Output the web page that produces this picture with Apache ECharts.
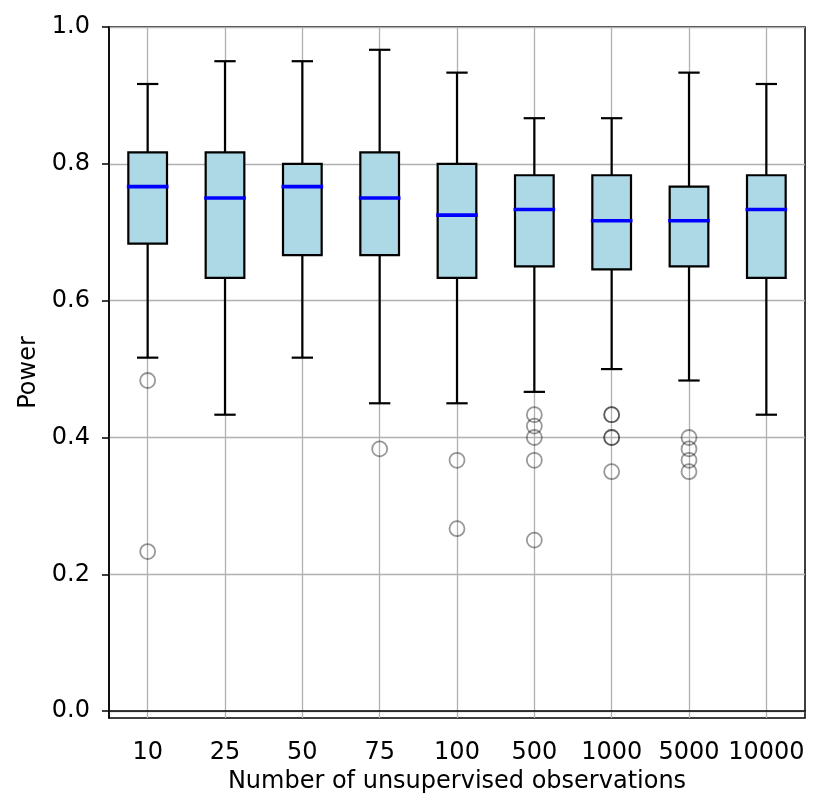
<!DOCTYPE html>
<html><head><meta charset="utf-8">
<script src="https://cdn.jsdelivr.net/npm/echarts@6/dist/echarts.min.js"></script>
<style>html,body{margin:0;padding:0;background:#fff}#c{width:832px;height:812px}</style>
</head><body><div id="c"></div>
<script>
const categories = ['10', '25', '50', '75', '100', '500', '1000', '5000', '10000'];
const whiskerLow  = [0.5167, 0.4333, 0.5167, 0.45,   0.45,   0.4667, 0.5,    0.4833, 0.4333];
const q1          = [0.6833, 0.6333, 0.6667, 0.6667, 0.6333, 0.65,   0.6458, 0.65,   0.6333];
const median      = [0.7667, 0.75,   0.7667, 0.75,   0.725,  0.7333, 0.7167, 0.7167, 0.7333];
const q3          = [0.8167, 0.8167, 0.8,    0.8167, 0.8,    0.7833, 0.7833, 0.7667, 0.7833];
const whiskerHigh = [0.9167, 0.95,   0.95,   0.9667, 0.9333, 0.8667, 0.8667, 0.9333, 0.9167];
const outlierCategory = ['10', '10', '75', '100', '100', '500', '500', '500', '500', '500',
                         '1000', '1000', '1000', '1000', '1000', '5000', '5000', '5000', '5000'];
const outlierValue    = [0.4833, 0.2333, 0.3833, 0.3667, 0.2667, 0.4333, 0.4167, 0.4, 0.3667, 0.25,
                         0.4333, 0.4333, 0.4, 0.4, 0.35, 0.4, 0.3833, 0.3667, 0.35];
const yTickValues = [0, 0.2, 0.4, 0.6, 0.8, 1.0];

const FONT = 'DejaVu Sans';
const FS = 24;
const boxData = categories.map((c, i) => [i, whiskerLow[i], q1[i], median[i], q3[i], whiskerHigh[i]]);
const outlierData = outlierCategory.map((c, i) => [categories.indexOf(c), outlierValue[i]]);

function renderBox(params, api) {
  const i = api.value(0);
  const pLo = api.coord([i, api.value(1)]);
  const pQ1 = api.coord([i, api.value(2)]);
  const pMed = api.coord([i, api.value(3)]);
  const pQ3 = api.coord([i, api.value(4)]);
  const pHi = api.coord([i, api.value(5)]);
  const band = api.size([1, 0])[0];
  const bw = band * 0.5;
  const cw = bw * 0.5 + 2;
  const x = pQ1[0];
  const ls = { stroke: '#000', lineWidth: 2.2, fill: null };
  return {
    type: 'group',
    children: [
      { type: 'line', shape: { x1: x, y1: pQ1[1], x2: x, y2: pLo[1] }, style: ls },
      { type: 'line', shape: { x1: x, y1: pQ3[1], x2: x, y2: pHi[1] }, style: ls },
      { type: 'line', shape: { x1: x - cw / 2, y1: pLo[1], x2: x + cw / 2, y2: pLo[1] }, style: ls },
      { type: 'line', shape: { x1: x - cw / 2, y1: pHi[1], x2: x + cw / 2, y2: pHi[1] }, style: ls },
      { type: 'rect', shape: { x: x - bw / 2, y: pQ3[1], width: bw, height: pQ1[1] - pQ3[1] },
        style: { fill: '#ADD8E6', stroke: '#000', lineWidth: 2.2 } },
      { type: 'line', shape: { x1: x - bw / 2 - 1.5, y1: pMed[1], x2: x + bw / 2 + 1.5, y2: pMed[1] },
        style: { stroke: '#0000ff', lineWidth: 3.6 } }
    ]
  };
}

const chart = echarts.init(document.getElementById('c'));
chart.setOption({
  animation: false,
  backgroundColor: '#fff',
  grid: { left: 109, right: 27, top: 27, bottom: 94, show: true, borderColor: '#000', borderWidth: 1.5, backgroundColor: 'transparent' },
  xAxis: {
    type: 'category',
    data: categories,
    boundaryGap: true,
    name: 'Number of unsupervised observations',
    nameLocation: 'middle',
    nameGap: 47,
    nameTextStyle: { color: '#000', fontSize: FS, fontFamily: FONT },
    axisLine: { lineStyle: { color: '#000', width: 1.5 } },
    axisTick: { alignWithLabel: true, length: 7, lineStyle: { color: '#000', width: 1.5 } },
    axisLabel: { interval: 0, color: '#000', fontSize: FS, fontFamily: FONT, margin: 23, hideOverlap: false },
    splitLine: { show: true, alignWithLabel: true, lineStyle: { color: '#b0b0b0', width: 1.3 } }
  },
  yAxis: {
    type: 'value',
    min: -0.01,
    max: 1.0,
    name: 'Power',
    nameLocation: 'middle',
    nameGap: 65,
    nameRotate: 90,
    nameTextStyle: { color: '#000', fontSize: FS, fontFamily: FONT },
    axisLine: { show: true, lineStyle: { color: '#000', width: 1.5 } },
    axisTick: { show: true, customValues: yTickValues, length: 7, lineStyle: { color: '#000', width: 1.5 } },
    axisLabel: { customValues: yTickValues, color: '#000', fontSize: FS, fontFamily: FONT, margin: 19,
      formatter: v => Number(v).toFixed(1) },
    splitLine: { show: true, lineStyle: { color: '#b0b0b0', width: 1.3 } }
  },
  series: [
    {
      type: 'custom',
      renderItem: renderBox,
      data: boxData,
      encode: { x: 0, y: [1, 2, 3, 4, 5] },
      z: 3
    },
    {
      type: 'scatter',
      data: outlierData,
      symbol: 'circle',
      symbolSize: 15,
      itemStyle: { color: 'rgba(0,0,0,0)', borderColor: 'rgba(0,0,0,0.5)', borderWidth: 1.8 },
      z: 4
    }
  ]
});
</script>
</body></html>
